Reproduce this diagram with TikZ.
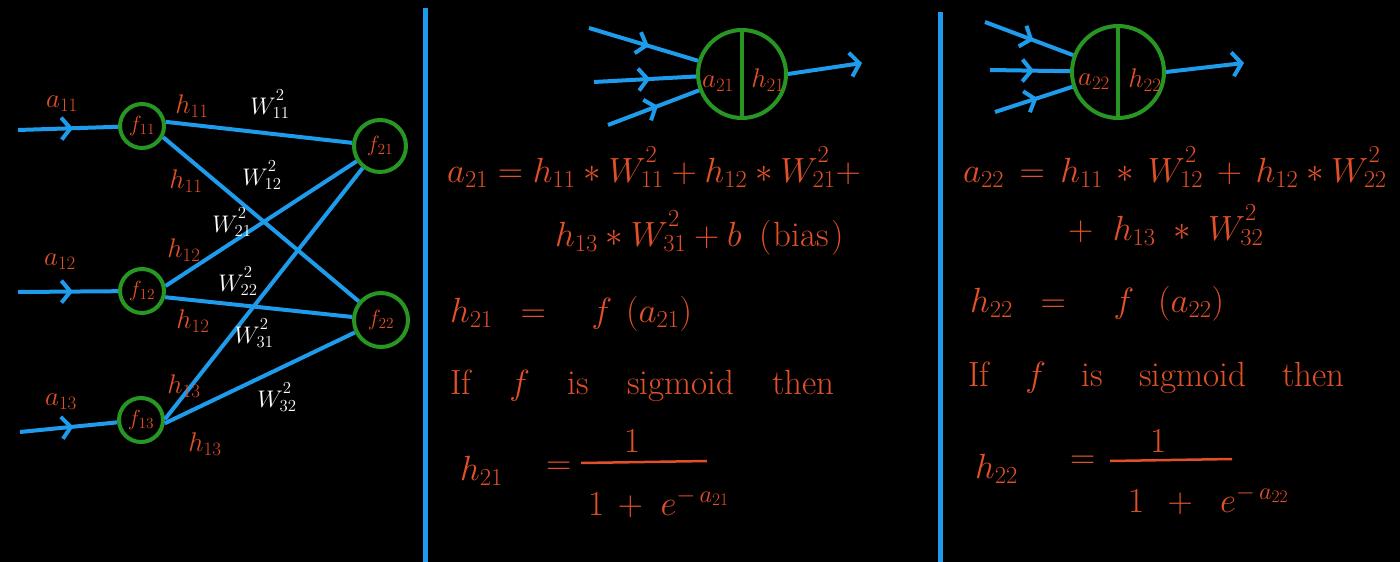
\RequirePackage{fix-cm}
\documentclass[tikz,border=0pt]{standalone}
\usetikzlibrary{arrows.meta,decorations.markings}
\definecolor{penblue}{RGB}{30,155,235}
\definecolor{pengreen}{RGB}{40,150,35}
\definecolor{penred}{RGB}{225,80,40}
\newcommand{\wt}[1]{W^{\raisebox{0pt}[\height][0.22em]{$\scriptstyle 2$}}_{#1}}
\begin{document}
\begin{tikzpicture}[x=1pt,y=-1pt,
  wire/.style={penblue,line width=4pt},
  sepline/.style={penblue,line width=5pt},
  inarrow/.style={wire,postaction={decorate},
    decoration={markings,mark=at position 0.55 with {\arrow{Straight Barb[length=9pt,width=22pt]}}}},
  outarrow/.style={wire,-{Straight Barb[length=9pt,width=24pt]}},
  neuron/.style={circle,draw=pengreen,line width=4pt,inner sep=0pt,text=penred,font=\fontsize{22}{24}\selectfont},
  bigneuron/.style={circle,draw=pengreen,line width=4pt,inner sep=0pt},
  redlbl/.style={text=penred,inner sep=0pt,font=\fontsize{27}{30}\selectfont},
  whitelbl/.style={text=white,inner sep=0pt,font=\fontsize{24}{26}\selectfont},
  eqn/.style={text=penred,inner sep=0pt,anchor=base west,font=\fontsize{35}{40}\selectfont},
  barline/.style={penred,line width=2.5pt}]
\fill[black] (0,0) rectangle (1400,562);
\useasboundingbox (0,0) rectangle (1400,562);

% separators
\draw[sepline] (425,8) -- (425,562);
\draw[sepline] (940,12) -- (940,562);

% ---------- left network ----------
\node[neuron,minimum size=44pt] (f11) at (142,126) {$f_{11}$};
\node[neuron,minimum size=44pt] (f12) at (142,291) {$f_{12}$};
\node[neuron,minimum size=44pt] (f13) at (141,420) {$f_{13}$};
\node[neuron,minimum size=52pt] (f21) at (380,146) {$f_{21}$};
\node[neuron,minimum size=54pt] (f22) at (381,320) {$f_{22}$};

\coordinate (i11) at (18,130);
\coordinate (i12) at (18,292);
\coordinate (i13) at (20,432);
\draw[inarrow] (i11) -- (f11);
\draw[inarrow] (i12) -- (f12);
\draw[inarrow] (i13) -- (f13);

\draw[wire] (f11.10) -- (f21);
\draw[wire] (f11.-28) -- (f22);
\draw[wire] (f12.12) -- (f21);
\draw[wire] (f12.-15) -- (f22);
\draw[wire] (f13.2) -- (f21);
\draw[wire] (f13.-8) -- (f22);

\node[redlbl] (la11) at (62,104) {$a_{11}$};
\node[redlbl] (la12) at (60,262) {$a_{12}$};
\node[redlbl] (la13) at (61,402) {$a_{13}$};
\node[redlbl] (lh11a) at (192,106) {$h_{11}$};
\node[redlbl] (lh11b) at (186,181) {$h_{11}$};
\node[redlbl] (lh12a) at (184,250) {$h_{12}$};
\node[redlbl] (lh12b) at (193,321) {$h_{12}$};
\node[redlbl] (lh13a) at (184,386) {$h_{13}$};
\node[redlbl] (lh13b) at (205,444) {$h_{13}$};

\node[whitelbl] (w11) at (270,104) {$\wt{11}$};
\node[whitelbl] (w12) at (262,175) {$\wt{12}$};
\node[whitelbl] (w21) at (232,222) {$\wt{21}$};
\node[whitelbl] (w22) at (238,281) {$\wt{22}$};
\node[whitelbl] (w31) at (254,333) {$\wt{31}$};
\node[whitelbl] (w32) at (277,397) {$\wt{32}$};

% ---------- middle neuron ----------
\node[bigneuron,minimum size=88pt] (n1) at (742,74) {};
\draw[pengreen,line width=4pt] (n1.north) -- (n1.south);
\node[redlbl] (n1a) at (718,84) {$a_{21}$};
\node[redlbl] (n1h) at (768,80) {$h_{21}$};
\coordinate (m1) at (589,28);
\coordinate (m2) at (594,82);
\coordinate (m3) at (608,125);
\coordinate (mo) at (862,63);
\draw[inarrow] (m1) -- (n1);
\draw[inarrow] (m2) -- (n1);
\draw[inarrow] (m3) -- (n1);
\draw[outarrow] (n1.east) -- (mo);

\node[eqn] (e1) at (447,182) {$a_{21} = h_{11} * \wt{11} + h_{12} * \wt{21} +$};
\node[eqn] (e2) at (555,246) {$h_{13} * \wt{31} + b$\hspace{18pt}(\hspace{2pt}bias\hspace{2pt})};
\node[eqn] (e3) at (450,322) {$h_{21}\hspace{18pt}=\hspace{36pt}f\hspace{14pt}(a_{21})$};
\node[eqn] (e4) at (450,394) {If\hspace{38pt}$f$\hspace{38pt}is\hspace{38pt}sigmoid\hspace{38pt}then};
\node[eqn] (e5) at (460,480) {$h_{21}$};
\node[eqn] (e6) at (546,474) {$=$};
\node[eqn] (e7) at (624,452) {$1$};
\draw[barline] (581,463) -- (707,461);
\node[eqn] (e8) at (588,515) {$1\,+\;e^{-\,a_{21}}$};

% ---------- right neuron ----------
\node[bigneuron,minimum size=92pt] (n2) at (1118,72) {};
\draw[pengreen,line width=4pt] (n2.north) -- (n2.south);
\node[redlbl] (n2a) at (1094,82) {$a_{22}$};
\node[redlbl] (n2h) at (1145,80) {$h_{22}$};
\coordinate (r1) at (985,22);
\coordinate (r2) at (990,70);
\coordinate (r3) at (995,112);
\coordinate (ro) at (1244,63);
\draw[inarrow] (r1) -- (n2);
\draw[inarrow] (r2) -- (n2);
\draw[inarrow] (r3) -- (n2);
\draw[outarrow] (n2.east) -- (ro);

\node[eqn] (g1) at (963,182) {$a_{22}\,=\,h_{11}\,*\,\wt{12}\,+\,h_{12} * \wt{22}$};
\node[eqn] (g2) at (1068,240) {$+\;\;h_{13}\;*\;\wt{32}$};
\node[eqn] (g3) at (970,312) {$h_{22}\hspace{18pt}=\hspace{38pt}f\hspace{24pt}(a_{22})$};
\node[eqn] (g4) at (968,386) {If\hspace{36pt}$f$\hspace{36pt}is\hspace{36pt}sigmoid\hspace{36pt}then};
\node[eqn] (g5) at (975,478) {$h_{22}$};
\node[eqn] (g6) at (1070,468) {$=$};
\node[eqn] (g7) at (1150,452) {$1$};
\draw[barline] (1110,461) -- (1232,459);
\node[eqn] (g8) at (1128,512) {$1\;\,+\;\;e^{-\,a_{22}}$};
\end{tikzpicture}
\end{document}
